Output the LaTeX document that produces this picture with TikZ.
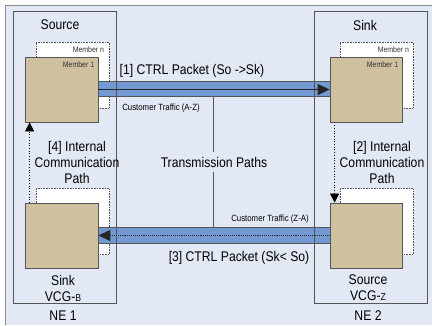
\documentclass[tikz,border=0pt]{standalone}
\usepackage{fontspec}
\setmainfont{Liberation Sans}[FakeStretch=0.87]
\usetikzlibrary{arrows.meta}

\definecolor{panelbg}{HTML}{E2E9F4}
\definecolor{pathblue}{HTML}{7299D1}
\definecolor{memberfill}{HTML}{CFC09F}
\definecolor{linegray}{HTML}{555555}
\definecolor{edgegray}{HTML}{8C8C8C}

\tikzset{
  member/.style={draw=linegray, fill=memberfill, line width=0.8pt, minimum width=73pt, minimum height=65pt, inner sep=0pt},
  ghost/.style={draw=linegray, densely dotted, fill=white, line width=0.6pt, minimum width=73pt, minimum height=66pt, inner sep=0pt},
  pathbar/.style={draw=linegray, fill=pathblue, line width=0.8pt, minimum width=232pt, minimum height=15pt, inner sep=0pt},
  bigtxt/.style={font=\fontsize{14}{16}\selectfont, inner sep=1pt, align=center},
  smalltxt/.style={font=\fontsize{9}{10}\selectfont, inner sep=1pt},
  tinytxt/.style={font=\fontsize{8}{9}\selectfont, inner sep=0pt, text=black!80},
  ctrltip/.style={-{Triangle[length=12pt,width=11pt]}},
  innertip/.style={-{Triangle[length=9pt,width=9pt]}}
}

\begin{document}
\begin{tikzpicture}[x=1pt, y=-1pt]
  \useasboundingbox (0,0) rectangle (432,325);
  \fill[white] (0,0) rectangle (432,325);
  \fill[panelbg] (5,5) rectangle (432,325);
  \draw[edgegray, line width=1pt] (5,325) -- (5,5) -- (432,5);

  % members behind
  \node[ghost] (ghostA) at (72.5,75) {};
  \node[ghost] (ghostB) at (376.5,75) {};
  \node[ghost] (ghostC) at (72.5,221.5) {};
  \node[ghost] (ghostD) at (376.5,221.5) {};

  % transmission paths
  \node[pathbar] (barAZ) at (214,89) {};
  \node[pathbar, minimum height=16pt] (barZA) at (214,235) {};

  % network elements
  \draw[linegray, line width=0.8pt] (13,11) rectangle (116,303);
  \draw[linegray, line width=0.8pt] (314,11) rectangle (427,303);

  \node[member] (srcA) at (61.5,89.5) {};
  \node[member, minimum width=72pt] (snkZ) at (366,89.5) {};
  \node[member] (snkB) at (61.5,235.5) {};
  \node[member, minimum width=72pt] (srcZ) at (366,235.5) {};

  \node[tinytxt, anchor=north east] (lblA) at ([xshift=-5pt,yshift=-5pt]ghostA.north east) {Member n};
  \node[tinytxt, anchor=north east] (lblB) at ([xshift=-4pt,yshift=-5pt]srcA.north east) {Member 1};
  \node[tinytxt, anchor=north east] (lblC) at ([xshift=-4pt,yshift=-5pt]ghostB.north east) {Member n};
  \node[tinytxt, anchor=north east] (lblD) at ([xshift=-4pt,yshift=-5pt]snkZ.north east) {Member 1};

  \draw[black!85, line width=1.2pt, ctrltip] (srcA.east) -- (snkZ.west);
  \draw[black!85, densely dotted, line width=0.9pt, ctrltip] (srcZ.west) -- (snkB.east);

  \draw[black, dotted, line width=0.7pt, innertip] ([xshift=5pt]snkB.north west) -- ([xshift=5pt]srcA.south west);
  \draw[black, dotted, line width=0.7pt, innertip] ([xshift=5pt]snkZ.south west) -- ([xshift=5pt]srcZ.north west);

  \node[bigtxt] (srcTitle) at (60,25) {Source};
  \node[bigtxt] (snkTitle) at (365,25) {Sink};
  \node[bigtxt] (ctrlAZ) at (192,71) {[1] CTRL Packet (So ->Sk)};
  \node[bigtxt] (ctrlZA) at (239,258) {[3] CTRL Packet (Sk< So)};
  \node[smalltxt] (trafAZ) at (161,108) {Customer Traffic (A-Z)};
  \node[smalltxt] (trafZA) at (270,219) {Customer Traffic (Z-A)};
  \node[bigtxt] (icpA) at (77,162.5) {[4] Internal\\Communication\\Path};
  \node[bigtxt] (icpZ) at (382,162.5) {[2] Internal\\Communication\\Path};
  \node[bigtxt, inner sep=5pt] (tpaths) at (214,162) {Transmission Paths};
  \node[bigtxt] (vcgB) at (63,288) {Sink\\VCG-{\fontsize{10}{12}\selectfont B}};
  \node[bigtxt] (vcgZ) at (368,288) {Source\\VCG-{\fontsize{10}{12}\selectfont Z}};
  \node[bigtxt] (neA) at (63,316) {NE 1};
  \node[bigtxt] (neZ) at (368,316) {NE 2};

  \draw[linegray, line width=0.9pt] ([xshift=-1pt]tpaths.north) -- ([xshift=-1pt]tpaths.north |- barAZ.south);
  \draw[linegray, line width=0.9pt] ([xshift=-1pt]tpaths.south) -- ([xshift=-1pt]tpaths.south |- barZA.north);
\end{tikzpicture}
\end{document}
